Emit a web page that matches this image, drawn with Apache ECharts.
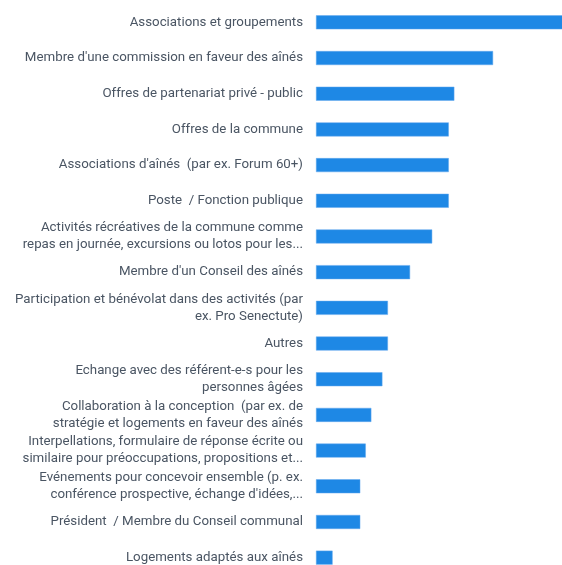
<!DOCTYPE html>
<html>
<head>
<meta charset="utf-8">
<script src="https://cdn.jsdelivr.net/npm/echarts@6/dist/echarts.min.js"></script>
<style>
  html, body { margin: 0; padding: 0; background: #fff; }
  #chart { width: 562px; height: 565px; }
</style>
</head>
<body>
<div id="chart"></div>
<script>
  // labels as shown (already wrapped / cut like the source)
  const categories = [
    'Associations et groupements',
    'Membre d\'une commission en faveur des aînés',
    'Offres de partenariat privé - public',
    'Offres de la commune',
    'Associations d\'aînés  (par ex. Forum 60+)',
    'Poste  / Fonction publique',
    'Activités récréatives de la commune comme\nrepas en journée, excursions ou lotos pour les...',
    'Membre d\'un Conseil des aînés',
    'Participation et bénévolat dans des activités (par\nex. Pro Senectute)',
    'Autres',
    'Echange avec des référent-e-s pour les\npersonnes âgées',
    'Collaboration à la conception  (par ex. de\nstratégie et logements en faveur des aînés',
    'Interpellations, formulaire de réponse écrite ou\nsimilaire pour préoccupations, propositions et...',
    'Evénements pour concevoir ensemble (p. ex.\nconférence prospective, échange d\'idées,...',
    'Président  / Membre du Conseil communal',
    'Logements adaptés aux aînés'
  ]
  const values = [45, 32, 25, 24, 24, 24, 21, 17, 13, 13, 12, 10, 9, 8, 8, 3]

  const chart = echarts.init(document.getElementById('chart'))
  chart.setOption({
    animation: false,
    textStyle: {
      fontFamily: 'Roboto, sans-serif'
    },
    grid: {
      left: 316,
      top: 4.5,
      width: 249,
      height: 571,
      containLabel: false,
      outerBoundsMode: 'none'
    },
    xAxis: {
      type: 'value',
      min: 0,
      max: 45,
      show: false
    },
    yAxis: {
      type: 'category',
      data: categories,
      inverse: true,
      axisLine: { show: false },
      axisTick: { show: false },
      splitLine: { show: false },
      axisLabel: {
        margin: 13,
        color: '#4a5563',
        fontSize: 13.3,
        lineHeight: 17,
        align: 'right'
      }
    },
    series: [{
      type: 'bar',
      data: values,
      barWidth: 14,
      itemStyle: {
        color: '#1e88e5',
        borderColor: '#64a9ee',
        borderWidth: 0.5
      }
    }]
  })
</script>
</body>
</html>
